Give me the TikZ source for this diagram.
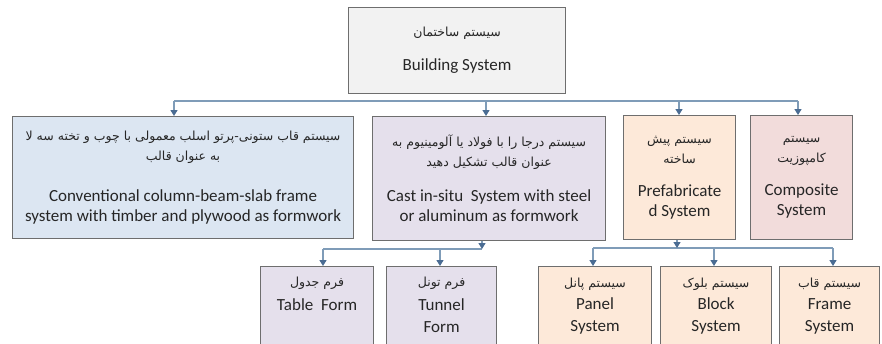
\documentclass[tikz,border=0pt]{standalone}
\usepackage{fontspec}
\setmainfont{Carlito}
\newfontfamily\fafont[Script=Arabic]{DejaVu Sans}
\TeXXeTstate=1
\usetikzlibrary{arrows.meta}
\newcommand\fatxt[1]{{\fafont\fontsize{12.5}{20}\selectfont\beginR #1\endR}}
\definecolor{bordc}{HTML}{6E6E6E}
\definecolor{conc}{HTML}{7F9CB8}
\definecolor{arrc}{HTML}{4A6C93}
\definecolor{topf}{HTML}{F2F2F2}
\definecolor{bluef}{HTML}{DCE6F2}
\definecolor{lavf}{HTML}{E5E0EC}
\definecolor{peachf}{HTML}{FDE9D9}
\definecolor{pinkf}{HTML}{F2DCDB}
\tikzset{
  boxs/.style={draw=bordc, line width=1.1pt, anchor=north west, inner sep=0pt, align=center,
    font=\fontsize{17}{20}\selectfont, text=black!85},
  txts/.style={anchor=north, inner sep=0pt, align=center, font=\fontsize{17}{22}\selectfont, text=black!85},
  conn/.style={draw=conc, line width=1.3pt},
  arr/.style={draw=conc, line width=1.3pt, -{Triangle[length=6pt,width=7pt,color=arrc]}},
}
\begin{document}
\begin{tikzpicture}[x=1pt,y=-1pt]
\useasboundingbox (0,0) rectangle (882,343);
\clip (0,0) rectangle (882,343);
\fill[white] (0,0) rectangle (882,343);
% level 0
\node[boxs, fill=topf, minimum width=217pt, minimum height=86pt] (top) at (348,7)
  {\fatxt{سیستم ساختمان}\\[14pt] Building System};
% level 1
\node[boxs, fill=bluef, minimum width=341pt, minimum height=122pt] (b1) at (12,116)
  {\fatxt{سیستم قاب ستونی-پرتو اسلب معمولی با چوب و تخته سه لا}\\
   \fatxt{به عنوان قالب}\\[21pt]
   Conventional column-beam-slab frame\\
   system with timber and plywood as formwork};
\node[boxs, fill=lavf, minimum width=233pt, minimum height=124pt] (b2) at (372,116)
  {\fatxt{سیستم درجا را با فولاد یا آلومینیوم به}\\
   \fatxt{عنوان قالب تشکیل دهید}\\[15pt]
   Cast in-situ\ \ System with steel\\
   or aluminum as formwork};
\node[boxs, fill=peachf, minimum width=112pt, minimum height=124pt] (b3) at (623,115)
  {\fatxt{سیستم پیش}\\
   \fatxt{ساخته}\\[13pt]
   Prefabricate\\
   d System};
\node[boxs, fill=pinkf, minimum width=102pt, minimum height=124pt] (b4) at (750,115)
  {\fatxt{سیستم}\\
   \fatxt{کامپوزیت}\\[13pt]
   Composite\\
   System};
% level 2 boxes (cut by the lower edge)
\node[boxs, fill=lavf, minimum width=113pt, minimum height=100pt] (tab) at (260,266) {};
\node[boxs, fill=lavf, minimum width=110pt, minimum height=100pt] (tun) at (386,266) {};
\node[boxs, fill=peachf, minimum width=113pt, minimum height=100pt] (pan) at (538,266) {};
\node[boxs, fill=peachf, minimum width=111pt, minimum height=100pt] (blo) at (660,266) {};
\node[boxs, fill=peachf, minimum width=100pt, minimum height=100pt] (fra) at (779,266) {};
\node[txts] (ttab) at ([yshift=-11pt]tab.north) {\fatxt{فرم جدول}\\[2pt] Table\ \ Form};
\node[txts] (ttun) at ([yshift=-11pt]tun.north) {\fatxt{فرم تونل}\\[2pt] Tunnel\\ Form};
\node[txts] (tpan) at ([yshift=-12pt]pan.north) {\fatxt{سیستم پانل}\\ Panel\\ System};
\node[txts] (tblo) at ([yshift=-12pt]blo.north) {\fatxt{سیستم بلوک}\\ Block\\ System};
\node[txts] (tfra) at ([yshift=-12pt]fra.north) {\fatxt{سیستم قاب}\\ Frame\\ System};
% bus 1
\coordinate (j1) at (174,101);
\coordinate (j2) at (486,101);
\coordinate (j3) at (679,101);
\coordinate (j4) at (798,101);
\draw[conn] (j1) -- (j4);
\draw[arr] (j1) -- (j1 |- b1.north);
\draw[arr] (j2) -- (j2 |- b2.north);
\draw[arr] (j3) -- (j3 |- b3.north);
\draw[arr] (j4) -- (j4 |- b4.north);
% bus 2 (cast in-situ)
\coordinate (k0) at (482,249);
\coordinate (k1) at (323,249);
\coordinate (k2) at (440,249);
\draw[conn] (k1) -- (k0);
\draw[arr] (k0 |- b2.south) -- (k0);
\draw[arr] (k1) -- (k1 |- tab.north);
\draw[arr] (k2) -- (k2 |- tun.north);
% bus 3 (prefabricated)
\coordinate (m0) at (677,248);
\coordinate (m1) at (593,248);
\coordinate (m2) at (714,248);
\coordinate (m3) at (833,248);
\draw[conn] (m1) -- (m3);
\draw[arr] (m0 |- b3.south) -- (m0);
\draw[arr] (m1) -- (m1 |- pan.north);
\draw[arr] (m2) -- (m2 |- blo.north);
\draw[arr] (m3) -- (m3 |- fra.north);
\end{tikzpicture}
\end{document}
